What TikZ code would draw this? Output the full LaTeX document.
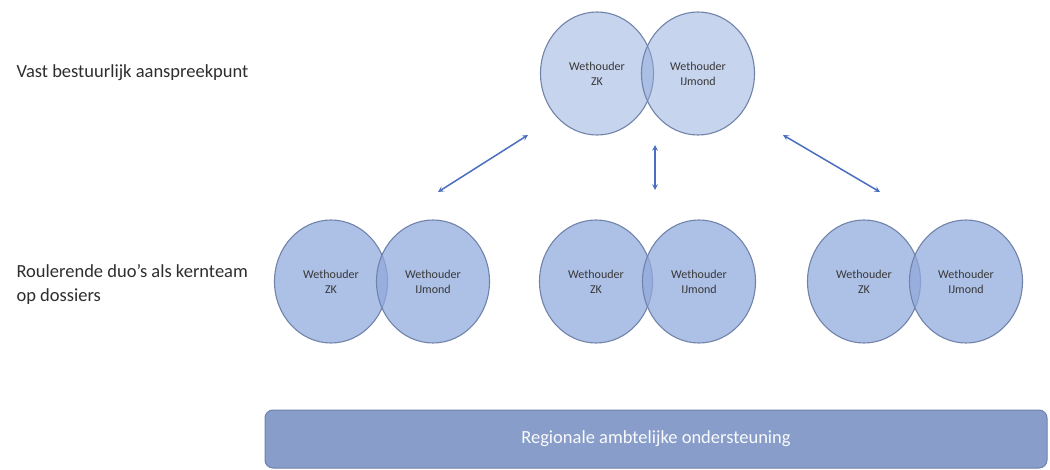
\documentclass[tikz,border=0pt]{standalone}
\usepackage{fontspec}
\setmainfont{Carlito}
\usepackage{tikz}
\usetikzlibrary{arrows, shapes.geometric, positioning}
\definecolor{ringline}{HTML}{7283AA}
\definecolor{ringfill}{HTML}{91AADC}
\definecolor{arrowblue}{HTML}{4A6FBE}
\definecolor{barfill}{HTML}{889DC9}
\definecolor{barline}{HTML}{6E82AB}

\begin{document}
\begin{tikzpicture}[x=1pt, y=-1pt,
    ring/.style={ellipse, draw=ringline, line width=1.1pt, fill=ringfill, fill opacity=0.74, text opacity=1,
        minimum width=113pt, minimum height=123pt, inner sep=0pt, align=center,
        font=\fontsize{12}{15}\selectfont, text=black!78},
    topring/.style={ring, fill opacity=0.5},
    link/.style={draw=arrowblue, line width=1.5pt, stealth-stealth},
    side/.style={anchor=west, align=left, font=\fontsize{18.5}{24}\selectfont, text=black!82},
    bar/.style={rectangle, rounded corners=8pt, draw=barline, line width=1pt, fill=barfill,
        minimum width=782pt, minimum height=58pt, text=white!95!barfill, font=\fontsize{18.5}{22}\selectfont}]
            \path[use as bounding box, fill=white] (0,0) rectangle (1050,470);
            % labels on the left
            \node[side] (fixed) at (13,73) {Vast bestuurlijk aanspreekpunt};
            \node[side] (rotating) at (13,284) {Roulerende duo’s als kernteam\\op dossiers};
            % fixed duo
            \node[topring] (zk0) at (597,73.5) {Wethouder\\ZK};
            \node[topring] (ij0) at (698,73.5) {Wethouder\\IJmond};
            % rotating duos
            \node[ring] (zk1) at (331,281.5) {Wethouder\\ZK};
            \node[ring] (ij1) at (433,281.5) {Wethouder\\IJmond};
            \node[ring] (zk2) at (596,281.5) {Wethouder\\ZK};
            \node[ring] (ij2) at (699,281.5) {Wethouder\\IJmond};
            \node[ring] (zk3) at (864,281.5) {Wethouder\\ZK};
            \node[ring] (ij3) at (966,281.5) {Wethouder\\IJmond};
            % arrows
            \coordinate (a1) at (528,135);
            \coordinate (b1) at (438,192);
            \coordinate (a2) at (655,145);
            \coordinate (b2) at (655,190);
            \coordinate (a3) at (783,135);
            \coordinate (b3) at (880,192);
            \draw[link] (a1) -- (b1);
            \draw[link] (a2) -- (b2);
            \draw[link] (a3) -- (b3);
            % support
            \node[bar] (support) at (656,439) {Regionale ambtelijke ondersteuning};
        \end{tikzpicture}
\end{document}
